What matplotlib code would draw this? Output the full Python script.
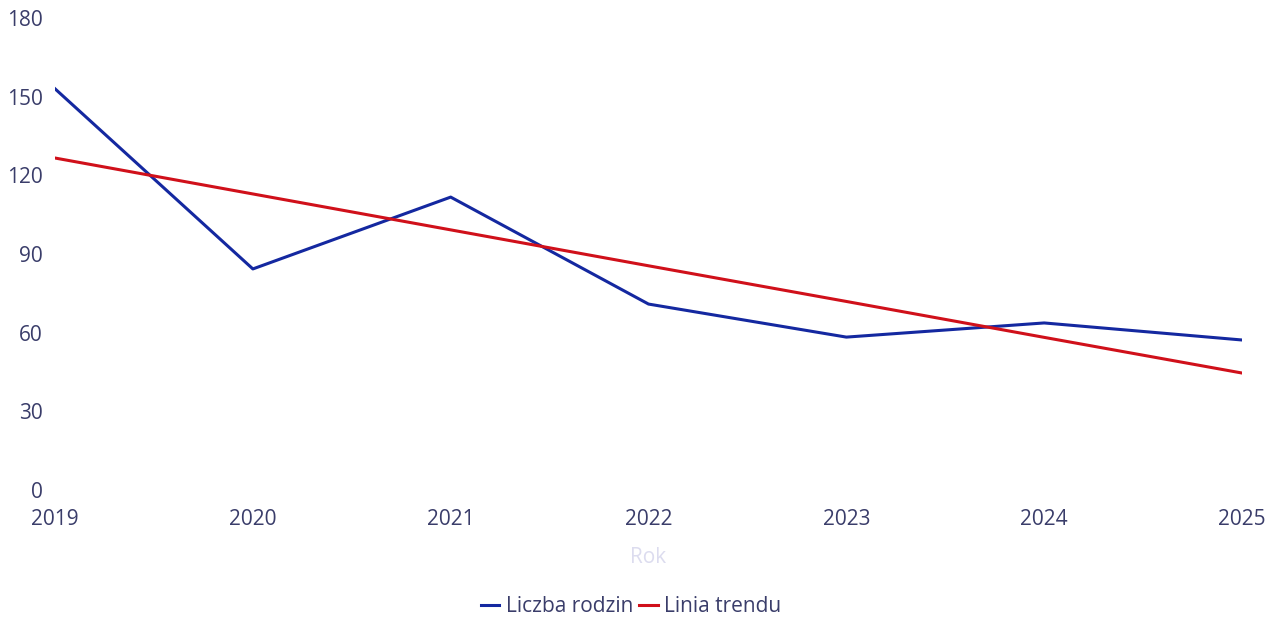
import matplotlib
matplotlib.use("Agg")
import matplotlib.pyplot as plt

years = [2019, 2020, 2021, 2022, 2023, 2024, 2025]
families = [153, 84.3, 111.7, 70.9, 58.3, 63.7, 57.2]
trend = [126.6, 112.9, 99.2, 85.5, 71.9, 58.2, 44.6]
y_ticks = [0, 30, 60, 90, 120, 150, 180]

plt.rcParams['font.family'] = ['Open Sans', 'DejaVu Sans']
txt = '#3a3d6a'

fig = plt.figure(figsize=(12.77, 6.21), dpi=100)
ax = fig.add_axes([0.0431, 0.211, 0.9295, 0.760])

ax.plot(years, families, color='#1428a0', lw=2.2, label='Liczba rodzin')
ax.plot(years, trend, color='#d0101a', lw=2.2, label='Linia trendu')

ax.set_xlim(2019, 2025)
ax.set_ylim(0, 180)
ax.set_xticks(years)
ax.set_yticks(y_ticks)
ax.tick_params(length=0, labelsize=15, labelcolor=txt)
ax.tick_params(axis='x', pad=14)
ax.tick_params(axis='y', pad=9)
for s in ax.spines.values():
    s.set_visible(False)
ax.set_xlabel('Rok', fontsize=15, color='#dcdcef', labelpad=12)

fig.legend(*ax.get_legend_handles_labels(), loc='center',
           bbox_to_anchor=(631 / 1277, 1 - 607 / 621), ncol=2, frameon=False,
           fontsize=15, labelcolor=txt, handlelength=0.9, handletextpad=0.3,
           columnspacing=0.3)

fig.savefig('out.png', dpi=100)
